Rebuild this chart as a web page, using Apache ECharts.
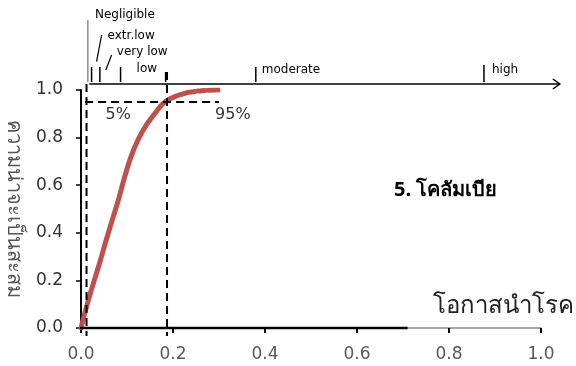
<!DOCTYPE html>
<html><head><meta charset="utf-8">
<script src="https://cdn.jsdelivr.net/npm/echarts@6/dist/echarts.min.js"></script>
<style>html,body{margin:0;padding:0;background:#fff}#c{width:576px;height:366px}</style>
</head><body><div id="c"></div>
<script>
// Cumulative probability curve (x = infection chance, y = cumulative probability)
const curveX = [0.000, 0.016, 0.038, 0.059, 0.081, 0.096, 0.114, 0.135, 0.161, 0.183, 0.204, 0.222, 0.233];
const curveY = [0.000, 0.117, 0.257, 0.397, 0.537, 0.642, 0.747, 0.831, 0.902, 0.951, 0.972, 0.984, 0.990];
const tailX = [0.233, 0.262, 0.298];
const tailY = [0.990, 0.997, 1.000];
// percentile markers
const p5 = 0.012, p95 = 0.187, pLevel = 0.95;
// risk scale thresholds
const riskTicks = [0.015, 0.023, 0.041, 0.086, 0.184, 0.380, 0.876];
const riskLabels = ['Negligible', 'extr.low', 'very low', 'low', 'moderate', 'high'];
const xTickLabels = ['0.0','0.2','0.4','0.6','0.8','1.0'];
const yTickLabels = ['0.0','0.2','0.4','0.6','0.8','1.0'];
const blackAxisEnd = 0.71;

const zip = (a, b) => a.map((v, i) => [v, b[i]]);
const chart = echarts.init(document.getElementById('c'), null, {renderer: 'canvas'});

const FONT = 'DejaVu Sans';
const dashStyle = {stroke: '#000', lineWidth: 2, lineDash: [8, 5]};

function overlay(params, api) {
  const c = (x, y) => api.coord([x, y]);
  const els = [];
  const y0 = c(0, 0)[1], y1 = c(0, 1)[1];
  const lineY = y1 - 6;
  const xs = c(0.018, 0)[0], xe = c(1.041, 0)[0];
  els.push({type: 'line', shape: {x1: xs, y1: lineY, x2: xe, y2: lineY}, style: {stroke: '#000', lineWidth: 1.5}});
  els.push({type: 'polyline', shape: {points: [[xe - 7, lineY - 5], [xe, lineY], [xe - 7, lineY + 5]]}, style: {stroke: '#000', lineWidth: 1.5, fill: null}});
  const tops = [20, 67, 67, 67, 72, 67, 65];
  riskTicks.forEach((t, i) => {
    const px = c(t, 0)[0];
    els.push({type: 'line', shape: {x1: px, y1: tops[i], x2: px, y2: lineY - 2},
      style: {stroke: i === 0 ? '#555' : '#000', lineWidth: i === 0 ? 1 : 1.5}});
  });
  const lab = (txt, x, y) => els.push({type: 'text', style: {text: txt, x: x, y: y, fill: '#000', font: '12px ' + FONT, textVerticalAlign: 'middle'}});
  lab(riskLabels[0], c(riskTicks[0], 0)[0] + 7, 15);
  lab(riskLabels[1], c(riskTicks[1], 0)[0] + 16, 36);
  lab(riskLabels[2], c(riskTicks[2], 0)[0] + 17, 52);
  lab(riskLabels[3], c(riskTicks[3], 0)[0] + 16, 69);
  lab(riskLabels[4], c(riskTicks[5], 0)[0] + 6, 70);
  lab(riskLabels[5], c(riskTicks[6], 0)[0] + 8, 70);
  const lx1 = c(riskTicks[1], 0)[0], lx2 = c(riskTicks[2], 0)[0];
  els.push({type: 'line', shape: {x1: lx1 + 10, y1: 35, x2: lx1 + 5, y2: 61.7}, style: {stroke: '#000', lineWidth: 1.2}});
  els.push({type: 'line', shape: {x1: lx2 + 11.7, y1: 55, x2: lx2 + 6, y2: 70}, style: {stroke: '#000', lineWidth: 1.2}});
  els.push({type: 'line', shape: {x1: c(0, 0)[0] - 1, y1: y0, x2: c(blackAxisEnd, 0)[0], y2: y0}, style: {stroke: '#000', lineWidth: 2.5}});
  const pyL = c(0, pLevel)[1];
  els.push({type: 'line', shape: {x1: c(0.009, 0)[0], y1: pyL, x2: c(0.300, 0)[0], y2: pyL}, style: dashStyle});
  els.push({type: 'line', shape: {x1: c(p5, 0)[0], y1: lineY, x2: c(p5, 0)[0], y2: y0 + 8}, style: dashStyle});
  els.push({type: 'line', shape: {x1: c(p95, 0)[0], y1: 72, x2: c(p95, 0)[0], y2: y0 + 8}, style: dashStyle});
  const plab = (txt, x, y) => els.push({type: 'text', style: {text: txt, x: x, y: y, fill: '#333', font: '16px ' + FONT, textVerticalAlign: 'middle'}});
  plab('5%', c(p5, 0)[0] + 19, pyL + 13);
  plab('95%', c(p95, 0)[0] + 48, pyL + 13);
  return {type: 'group', children: els};
}

chart.setOption({
  animation: false,
  grid: {left: 81, right: 35, top: 90, bottom: 38, containLabel: false, outerBoundsMode: 'none'},
  title: [
    {text: '5. โคลัมเบีย', left: 389, top: 175, textStyle: {fontSize: 20, fontWeight: 'bold', color: '#000', fontFamily: 'Noto Sans'}},
    {text: 'โอกาสนำโรค', left: 428, top: 289, textStyle: {fontSize: 24, fontWeight: 'normal', color: '#222', fontFamily: 'Noto Sans'}}
  ],
  xAxis: {
    type: 'value', min: 0, max: 1, interval: 0.2,
    axisLine: {show: true, lineStyle: {color: '#888', width: 1.5}},
    axisTick: {show: true, length: 5, lineStyle: {color: '#000', width: 2}},
    axisLabel: {fontSize: 17, color: '#595959', fontFamily: FONT, margin: 18,
      formatter: (v) => xTickLabels[Math.round(v / 0.2)]},
    splitLine: {show: false}
  },
  yAxis: {
    type: 'value', min: 0, max: 1, interval: 0.2,
    name: 'ความน่าจะเป็นสะสม', nameLocation: 'middle', nameRotate: -90, nameGap: 57,
    nameTextStyle: {fontSize: 20, color: '#555', fontFamily: 'Noto Sans'},
    axisLine: {show: true, lineStyle: {color: '#000', width: 2}},
    axisTick: {show: true, length: 5, lineStyle: {color: '#000', width: 1.5}},
    axisLabel: {fontSize: 17, color: '#333', fontFamily: FONT, margin: 18,
      formatter: (v) => yTickLabels[Math.round(v / 0.2)]},
    splitLine: {show: false}
  },
  series: [
    {type: 'line', data: zip(curveX, curveY), showSymbol: false, smooth: 0.5,
      lineStyle: {color: '#c0504d', width: 5, cap: 'round', join: 'round'}, z: 3},
    {type: 'line', data: zip(tailX, tailY), showSymbol: false, smooth: 0.3,
      lineStyle: {color: '#c0504d', width: 5, type: [7, 3], cap: 'round'}, z: 3},
    {type: 'custom', data: [[0, 0]], renderItem: overlay, clip: false, silent: true, z: 5}
  ]
});
</script></body></html>
